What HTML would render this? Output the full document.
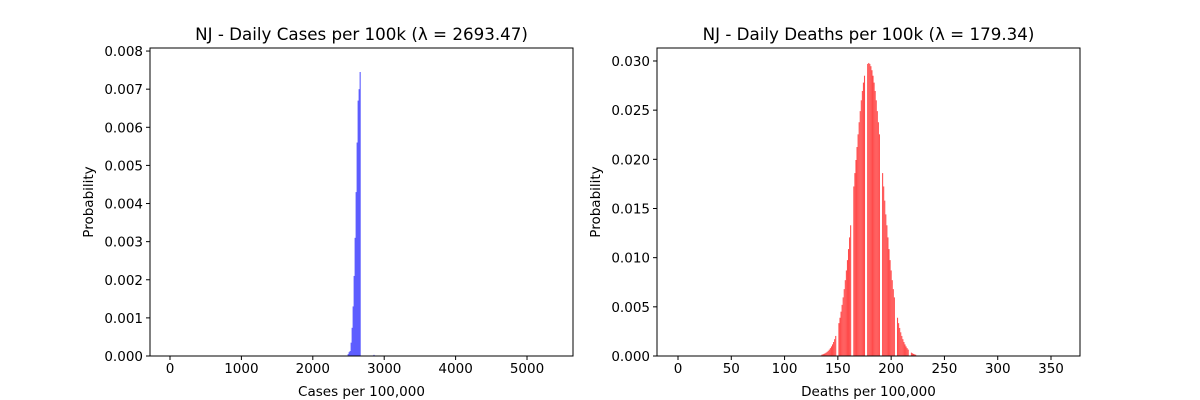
<!DOCTYPE html>
<html><head><meta charset="utf-8">
<style>
html,body{margin:0;padding:0;background:#fff;}
svg{display:block;font-family:"DejaVu Sans","Liberation Sans",sans-serif;}
</style></head>
<body>
<svg id="fig" width="1200" height="400" viewBox="0 0 1200 400" xmlns="http://www.w3.org/2000/svg"></svg>
<script>
// Left chart data (cases per 100k)
const casesBins = [2495,2509,2523,2537,2551,2565,2579,2593,2607,2621,2635,2649,2663,2857];
const casesProb = [0.00005,0.0001,0.00013,0.00035,0.00074,0.0013,0.0021,0.0031,0.0043,0.0056,0.0067,0.0070,0.00745,0.00003];
const casesXTicks = [0,1000,2000,3000,4000,5000];
const casesYTicks = [0,0.001,0.002,0.003,0.004,0.005,0.006,0.007,0.008];
const casesYLabels = ["0.000","0.001","0.002","0.003","0.004","0.005","0.006","0.007","0.008"];
// Right chart data (deaths per 100k)
const deathsBins = [135,136,137,138,139,140,141,142,143,144,145,146,147,148,149,150,151,152,153,154,155,156,157,158,159,160,161,162,163,164,165,166,167,168,169,170,171,172,173,174,175,176,177,178,179,180,181,182,183,184,185,186,187,188,189,190,191,192,193,194,195,196,197,198,199,200,201,202,203,204,205,206,207,208,209,210,211,212,213,214,215,216,217,218,219,220,221,222,223];
const deathsProb = [0.000133,0.00017,0.000216,0.000272,0.000341,0.000426,0.000528,0.00065,0.000798,0.000974,0.00118,0.00142,0.00171,0.00204,0,0,0.00334,0.00389,0.00451,0.0052,0.00596,0.0068,0.00771,0.0087,0.00975,0.01087,0.01206,0.01329,0,0,0.01724,0.0186,0.01993,0.02125,0.02254,0.02377,0.0249,0.026,0.02695,0.0278,0.0285,0,0,0.0297,0.0298,0.0297,0.02947,0.02906,0.0285,0.0278,0.02695,0.026,0.0249,0.02377,0.02254,0,0,0.0186,0.01724,0.0158,0.0144,0.01329,0.01206,0.01087,0.00975,0.0087,0.00771,0.0068,0.00596,0,0,0.00389,0.00334,0.00285,0.00241,0.00204,0.00171,0.00142,0.00118,0.000974,0.000798,0.00065,0,0,0.000341,0.000272,0.000216,0.00017,0.000133];
const deathsXTicks = [0,50,100,150,200,250,300,350];
const deathsYTicks = [0,0.005,0.010,0.015,0.020,0.025,0.030];
const deathsYLabels = ["0.000","0.005","0.010","0.015","0.020","0.025","0.030"];

const NS="http://www.w3.org/2000/svg";
const fig=document.getElementById('fig');
function mk(tag,attrs,parent){const e=document.createElementNS(NS,tag);for(const k in attrs)e.setAttribute(k,attrs[k]);(parent||fig).appendChild(e);return e;}

function chart(cfg){
  const g=mk('g',{});
  
  
  const L=cfg.left,R=cfg.right,T=48,B=356;
  const sx=v=>L+(v-cfg.xmin)/(cfg.xmax-cfg.xmin)*(R-L);
  const sy=v=>B-(v-0)/(cfg.ymax)*(B-T);
  const w=(sx(cfg.binW)-sx(0));
  cfg.bins.forEach((b,i)=>{
    const v=cfg.vals[i]; if(v<=0)return;
    const r=mk('rect',{x:sx(b)-w/2,y:sy(v),width:w,height:B-sy(v),fill:cfg.color},g);
    
    
  });
  const frame=mk('rect',{x:L,y:T,width:R-L,height:B-T,fill:'none',stroke:'#000','stroke-width':1},g);
  
  
  cfg.xt.forEach(t=>{
    const x=sx(t);
    mk('line',{x1:x,x2:x,y1:B,y2:B+4,stroke:'#000'},g);
    const tx=mk('text',{x:x,y:B+17,'text-anchor':'middle','font-size':'13.5px',fill:'#000'},g);
    tx.textContent=t;
    
    
  });
  cfg.yt.forEach((t,i)=>{
    const y=sy(t);
    mk('line',{x1:L-4,x2:L,y1:y,y2:y,stroke:'#000'},g);
    const tx=mk('text',{x:L-7,y:y+5,'text-anchor':'end','font-size':'13.5px',fill:'#000'},g);
    tx.textContent=cfg.yl[i];
    
    
  });
  const title=mk('text',{x:(L+R)/2,y:40,'text-anchor':'middle','font-size':'16.7px',fill:'#000'},g);
  title.textContent=cfg.title;
  
  
  const xl=mk('text',{x:(L+R)/2,y:396,'text-anchor':'middle','font-size':'13.5px',fill:'#000'},g);
  xl.textContent=cfg.xlabel;
  
  
  const yl=mk('text',{x:0,y:0,'text-anchor':'middle','font-size':'13.5px',fill:'#000',transform:`translate(${L-57},${(T+B)/2}) rotate(-90)`},g);
  yl.textContent='Probability';
  
  
}
chart({name:'cases-chart',left:150,right:573,xmin:-280,xmax:5644,ymax:0.00808,bins:casesBins,vals:casesProb,binW:14,color:'#4b4bff',xt:casesXTicks,yt:casesYTicks,yl:casesYLabels,title:'NJ - Daily Cases per 100k (λ = 2693.47)',xlabel:'Cases per 100,000'});
chart({name:'deaths-chart',left:657,right:1080,xmin:-19.7,xmax:377.2,ymax:0.03132,bins:deathsBins,vals:deathsProb,binW:1,color:'#ff4b4b',xt:deathsXTicks,yt:deathsYTicks,yl:deathsYLabels,title:'NJ - Daily Deaths per 100k (λ = 179.34)',xlabel:'Deaths per 100,000'});
</script>
</body></html>
